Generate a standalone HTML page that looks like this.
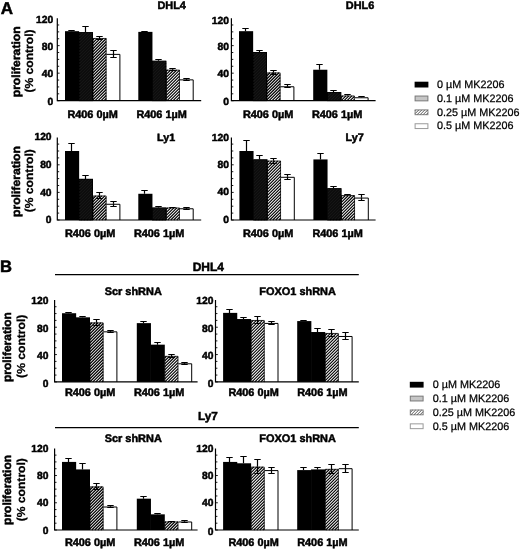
<!DOCTYPE html>
<html><head><meta charset="utf-8"><title>Figure</title>
<style>
html,body{margin:0;padding:0;background:#fff;}
body{width:520px;height:549px;overflow:hidden;font-family:"Liberation Sans",sans-serif;}
svg{display:block;}
text{font-family:"Liberation Sans",sans-serif;fill:#000;text-rendering:geometricPrecision;}
.b{font-weight:bold;stroke:#000;stroke-width:0.5px;}
.r{font-weight:normal;stroke:#000;stroke-width:0.25px;}
</style></head><body>
<svg width="520" height="549" viewBox="0 0 520 549">
<defs>
<filter id="bl" x="0" y="0" width="520" height="549" filterUnits="userSpaceOnUse"><feGaussianBlur stdDeviation="0.3"/></filter>
</defs>
<rect width="520" height="549" fill="#fff"/>
<g filter="url(#bl)">

<text x="0.8" y="13.6" class="b" font-size="17">A</text>
<text x="0.1" y="271.8" class="b" font-size="16.6">B</text>
<rect x="65.00" y="31.18" width="14.15" height="69.52" fill="#000"/>
<rect x="78.85" y="32.21" width="14.15" height="68.49" fill="#181818"/>
<path d="M79.65 35.10L81.74 33.01M79.65 38.10L84.74 33.01M79.65 41.10L87.74 33.01M79.65 44.10L90.74 33.01M79.65 47.10L92.70 34.05M79.65 50.10L92.70 37.05M79.65 53.10L92.70 40.05M79.65 56.10L92.70 43.05M79.65 59.10L92.70 46.05M79.65 62.10L92.70 49.05M79.65 65.10L92.70 52.05M79.65 68.10L92.70 55.05M79.65 71.10L92.70 58.05M79.65 74.10L92.70 61.05M79.65 77.10L92.70 64.05M79.65 80.10L92.70 67.05M79.65 83.10L92.70 70.05M79.65 86.10L92.70 73.05M79.65 89.10L92.70 76.05M79.65 92.10L92.70 79.05M79.65 95.10L92.70 82.05M79.65 98.10L92.70 85.05M80.05 100.70L92.70 88.05M83.05 100.70L92.70 91.05M86.05 100.70L92.70 94.05M89.05 100.70L92.70 97.05M92.05 100.70L92.70 100.05" stroke="#0a0a0a" stroke-width="1.1" fill="none"/>
<rect x="79.25" y="32.61" width="13.35" height="68.09" fill="none" stroke="#000" stroke-width="0.8"/>
<rect x="138.30" y="31.87" width="14.15" height="68.83" fill="#000"/>
<rect x="152.15" y="60.78" width="14.15" height="39.92" fill="#181818"/>
<path d="M152.95 63.80L155.17 61.58M152.95 66.80L158.17 61.58M152.95 69.80L161.17 61.58M152.95 72.80L164.17 61.58M152.95 75.80L166.00 62.75M152.95 78.80L166.00 65.75M152.95 81.80L166.00 68.75M152.95 84.80L166.00 71.75M152.95 87.80L166.00 74.75M152.95 90.80L166.00 77.75M152.95 93.80L166.00 80.75M152.95 96.80L166.00 83.75M152.95 99.80L166.00 86.75M155.05 100.70L166.00 89.75M158.05 100.70L166.00 92.75M161.05 100.70L166.00 95.75M164.05 100.70L166.00 98.75" stroke="#0a0a0a" stroke-width="1.1" fill="none"/>
<rect x="152.55" y="61.18" width="13.35" height="39.52" fill="none" stroke="#000" stroke-width="0.8"/>
<text x="53.20" y="104.70" text-anchor="end" class="b" font-size="10.3">0</text>
<text x="53.20" y="77.17" text-anchor="end" class="b" font-size="10.3">40</text>
<text x="53.20" y="49.63" text-anchor="end" class="b" font-size="10.3">80</text>
<text x="53.20" y="23.00" text-anchor="end" class="b" font-size="10.3">120</text>
<text x="67.40" y="118.30" class="b" font-size="10.9">R406 0µM</text>
<text x="136.40" y="118.30" class="b" font-size="10.9">R406 1µM</text>
<text x="171.7" y="9.4" text-anchor="middle" class="b" font-size="10.9">DHL4</text>
<rect x="239.00" y="31.18" width="14.15" height="69.52" fill="#000"/>
<rect x="252.85" y="52.03" width="14.15" height="48.67" fill="#181818"/>
<path d="M253.65 53.10L253.92 52.83M253.65 56.10L256.92 52.83M253.65 59.10L259.92 52.83M253.65 62.10L262.92 52.83M253.65 65.10L265.92 52.83M253.65 68.10L266.70 55.05M253.65 71.10L266.70 58.05M253.65 74.10L266.70 61.05M253.65 77.10L266.70 64.05M253.65 80.10L266.70 67.05M253.65 83.10L266.70 70.05M253.65 86.10L266.70 73.05M253.65 89.10L266.70 76.05M253.65 92.10L266.70 79.05M253.65 95.10L266.70 82.05M253.65 98.10L266.70 85.05M254.05 100.70L266.70 88.05M257.05 100.70L266.70 91.05M260.05 100.70L266.70 94.05M263.05 100.70L266.70 97.05M266.05 100.70L266.70 100.05" stroke="#0a0a0a" stroke-width="1.1" fill="none"/>
<rect x="253.25" y="52.43" width="13.35" height="48.27" fill="none" stroke="#000" stroke-width="0.8"/>
<rect x="313.20" y="69.73" width="14.15" height="30.97" fill="#000"/>
<rect x="327.05" y="92.10" width="14.15" height="8.60" fill="#181818"/>
<path d="M327.85 92.90L327.85 92.90M327.85 95.90L330.85 92.90M327.85 98.90L333.85 92.90M329.05 100.70L336.85 92.90M332.05 100.70L339.85 92.90M335.05 100.70L340.90 94.85M338.05 100.70L340.90 97.85" stroke="#0a0a0a" stroke-width="1.1" fill="none"/>
<rect x="327.45" y="92.50" width="13.35" height="8.20" fill="none" stroke="#000" stroke-width="0.8"/>
<text x="229.00" y="105.10" text-anchor="end" class="b" font-size="10.3">0</text>
<text x="229.00" y="77.17" text-anchor="end" class="b" font-size="10.3">40</text>
<text x="229.00" y="49.63" text-anchor="end" class="b" font-size="10.3">80</text>
<text x="229.00" y="23.60" text-anchor="end" class="b" font-size="10.3">120</text>
<text x="242.90" y="118.30" class="b" font-size="10.9">R406 0µM</text>
<text x="311.90" y="118.30" class="b" font-size="10.9">R406 1µM</text>
<text x="360.1" y="9.3" text-anchor="middle" class="b" font-size="10.9">DHL6</text>
<rect x="65.00" y="151.00" width="14.15" height="69.00" fill="#000"/>
<rect x="78.85" y="178.88" width="14.15" height="41.12" fill="#181818"/>
<path d="M79.65 182.10L82.07 179.68M79.65 185.10L85.07 179.68M79.65 188.10L88.07 179.68M79.65 191.10L91.07 179.68M79.65 194.10L92.70 181.05M79.65 197.10L92.70 184.05M79.65 200.10L92.70 187.05M79.65 203.10L92.70 190.05M79.65 206.10L92.70 193.05M79.65 209.10L92.70 196.05M79.65 212.10L92.70 199.05M79.65 215.10L92.70 202.05M79.65 218.10L92.70 205.05M80.75 220.00L92.70 208.05M83.75 220.00L92.70 211.05M86.75 220.00L92.70 214.05M89.75 220.00L92.70 217.05" stroke="#0a0a0a" stroke-width="1.1" fill="none"/>
<rect x="79.25" y="179.28" width="13.35" height="40.72" fill="none" stroke="#000" stroke-width="0.8"/>
<rect x="138.30" y="193.78" width="14.15" height="26.22" fill="#000"/>
<rect x="152.15" y="207.58" width="14.15" height="12.42" fill="#181818"/>
<path d="M152.95 210.80L155.37 208.38M152.95 213.80L158.37 208.38M152.95 216.80L161.37 208.38M152.95 219.80L164.37 208.38M155.75 220.00L166.00 209.75M158.75 220.00L166.00 212.75M161.75 220.00L166.00 215.75M164.75 220.00L166.00 218.75" stroke="#0a0a0a" stroke-width="1.1" fill="none"/>
<rect x="152.55" y="207.98" width="13.35" height="12.02" fill="none" stroke="#000" stroke-width="0.8"/>
<text x="51.60" y="223.20" text-anchor="end" class="b" font-size="10.3">0</text>
<text x="51.60" y="195.60" text-anchor="end" class="b" font-size="10.3">40</text>
<text x="51.60" y="168.00" text-anchor="end" class="b" font-size="10.3">80</text>
<text x="51.60" y="140.30" text-anchor="end" class="b" font-size="10.3">120</text>
<text x="64.90" y="237.10" class="b" font-size="10.9">R406 0µM</text>
<text x="133.90" y="237.10" class="b" font-size="10.9">R406 1µM</text>
<text x="166.1" y="141.1" text-anchor="middle" class="b" font-size="10.7">Ly1</text>
<rect x="239.40" y="151.00" width="14.15" height="69.00" fill="#000"/>
<rect x="253.25" y="159.42" width="14.15" height="60.58" fill="#181818"/>
<path d="M254.05 160.70L254.53 160.22M254.05 163.70L257.53 160.22M254.05 166.70L260.53 160.22M254.05 169.70L263.53 160.22M254.05 172.70L266.53 160.22M254.05 175.70L267.10 162.65M254.05 178.70L267.10 165.65M254.05 181.70L267.10 168.65M254.05 184.70L267.10 171.65M254.05 187.70L267.10 174.65M254.05 190.70L267.10 177.65M254.05 193.70L267.10 180.65M254.05 196.70L267.10 183.65M254.05 199.70L267.10 186.65M254.05 202.70L267.10 189.65M254.05 205.70L267.10 192.65M254.05 208.70L267.10 195.65M254.05 211.70L267.10 198.65M254.05 214.70L267.10 201.65M254.05 217.70L267.10 204.65M254.75 220.00L267.10 207.65M257.75 220.00L267.10 210.65M260.75 220.00L267.10 213.65M263.75 220.00L267.10 216.65M266.75 220.00L267.10 219.65" stroke="#0a0a0a" stroke-width="1.1" fill="none"/>
<rect x="253.65" y="159.82" width="13.35" height="60.18" fill="none" stroke="#000" stroke-width="0.8"/>
<rect x="313.40" y="159.42" width="14.15" height="60.58" fill="#000"/>
<rect x="327.25" y="188.26" width="14.15" height="31.74" fill="#181818"/>
<path d="M328.05 191.70L330.69 189.06M328.05 194.70L333.69 189.06M328.05 197.70L336.69 189.06M328.05 200.70L339.69 189.06M328.05 203.70L341.10 190.65M328.05 206.70L341.10 193.65M328.05 209.70L341.10 196.65M328.05 212.70L341.10 199.65M328.05 215.70L341.10 202.65M328.05 218.70L341.10 205.65M329.75 220.00L341.10 208.65M332.75 220.00L341.10 211.65M335.75 220.00L341.10 214.65M338.75 220.00L341.10 217.65" stroke="#0a0a0a" stroke-width="1.1" fill="none"/>
<rect x="327.65" y="188.66" width="13.35" height="31.34" fill="none" stroke="#000" stroke-width="0.8"/>
<text x="229.00" y="222.80" text-anchor="end" class="b" font-size="10.3">0</text>
<text x="229.00" y="195.00" text-anchor="end" class="b" font-size="10.3">40</text>
<text x="229.00" y="167.80" text-anchor="end" class="b" font-size="10.3">80</text>
<text x="229.00" y="140.50" text-anchor="end" class="b" font-size="10.3">120</text>
<text x="242.90" y="237.10" class="b" font-size="10.9">R406 0µM</text>
<text x="312.40" y="237.10" class="b" font-size="10.9">R406 1µM</text>
<text x="354.6" y="141.2" text-anchor="middle" class="b" font-size="10.8">Ly7</text>
<text transform="translate(19.80,61.80) rotate(-90)" text-anchor="middle" class="b" style="stroke-width:0.5px" font-size="11.6" textLength="71.0" lengthAdjust="spacingAndGlyphs">proliferation</text>
<text transform="translate(32.70,61.00) rotate(-90)" text-anchor="middle" class="b" style="stroke-width:0.25px" font-size="11.6" textLength="63.2" lengthAdjust="spacingAndGlyphs">(% control)</text>
<text transform="translate(19.80,181.50) rotate(-90)" text-anchor="middle" class="b" style="stroke-width:0.5px" font-size="11.6" textLength="71.0" lengthAdjust="spacingAndGlyphs">proliferation</text>
<text transform="translate(32.70,180.70) rotate(-90)" text-anchor="middle" class="b" style="stroke-width:0.25px" font-size="11.6" textLength="63.2" lengthAdjust="spacingAndGlyphs">(% control)</text>
<rect x="414.60" y="81.70" width="13.8" height="5.8" fill="#000"/>
<text x="437.00" y="87.90" class="r" font-size="10.8">0 µM MK2206</text>
<rect x="415.10" y="96.05" width="12.8" height="4.8" fill="#c6c6c6" stroke="#787878" stroke-width="1"/>
<text x="437.00" y="101.75" class="r" font-size="10.8">0.1 µM MK2206</text>
<rect x="415.10" y="109.90" width="12.8" height="4.8" fill="#fff" stroke="none"/>
<rect x="415.10" y="109.90" width="12.8" height="4.8" fill="none" stroke="#808080" stroke-width="1"/>
<text x="437.00" y="115.60" class="r" font-size="10.8">0.25 µM MK2206</text>
<rect x="415.10" y="123.75" width="12.8" height="4.8" fill="#fff" stroke="#9a9a9a" stroke-width="1"/>
<text x="437.00" y="129.45" class="r" font-size="10.8">0.5 µM MK2206</text>
<path d="M55 274.7H358.8M55 427.6H358.8" stroke="#000" stroke-width="1.2"/>
<text x="208.3" y="271.0" text-anchor="middle" class="b" font-size="12">DHL4</text>
<text x="207.9" y="419.9" text-anchor="middle" class="b" font-size="11.8">Ly7</text>
<text x="104.7" y="295.05" class="b" font-size="10.95">Scr shRNA</text>
<text x="259.3" y="295.05" class="b" font-size="10.95">FOXO1 shRNA</text>
<text x="104.7" y="441.6" class="b" font-size="10.95">Scr shRNA</text>
<text x="259.3" y="441.6" class="b" font-size="10.95">FOXO1 shRNA</text>
<rect x="62.00" y="313.22" width="14.15" height="68.68" fill="#000"/>
<rect x="75.85" y="317.32" width="14.15" height="64.57" fill="#030303"/>
<rect x="136.80" y="323.13" width="14.15" height="58.77" fill="#000"/>
<rect x="150.65" y="344.66" width="14.15" height="37.24" fill="#030303"/>
<text x="48.50" y="387.10" text-anchor="end" class="b" font-size="10.3">0</text>
<text x="48.50" y="359.17" text-anchor="end" class="b" font-size="10.3">40</text>
<text x="48.50" y="331.63" text-anchor="end" class="b" font-size="10.3">80</text>
<text x="48.50" y="304.20" text-anchor="end" class="b" font-size="10.3">120</text>
<text x="64.90" y="396.30" class="b" font-size="10.9">R406 0µM</text>
<text x="133.90" y="396.30" class="b" font-size="10.9">R406 1µM</text>
<rect x="223.10" y="312.88" width="14.15" height="69.02" fill="#000"/>
<rect x="236.95" y="319.03" width="14.15" height="62.87" fill="#030303"/>
<rect x="297.20" y="321.08" width="14.15" height="60.82" fill="#000"/>
<rect x="311.05" y="332.02" width="14.15" height="49.88" fill="#030303"/>
<text x="213.40" y="387.10" text-anchor="end" class="b" font-size="10.3">0</text>
<text x="213.40" y="359.17" text-anchor="end" class="b" font-size="10.3">40</text>
<text x="213.40" y="331.63" text-anchor="end" class="b" font-size="10.3">80</text>
<text x="213.40" y="304.20" text-anchor="end" class="b" font-size="10.3">120</text>
<text x="228.40" y="396.30" class="b" font-size="10.9">R406 0µM</text>
<text x="297.20" y="396.30" class="b" font-size="10.9">R406 1µM</text>
<rect x="62.00" y="461.92" width="14.15" height="68.08" fill="#000"/>
<rect x="75.85" y="469.41" width="14.15" height="60.59" fill="#030303"/>
<rect x="136.80" y="498.68" width="14.15" height="31.32" fill="#000"/>
<rect x="150.65" y="514.34" width="14.15" height="15.66" fill="#030303"/>
<text x="48.50" y="534.00" text-anchor="end" class="b" font-size="10.3">0</text>
<text x="48.50" y="506.17" text-anchor="end" class="b" font-size="10.3">40</text>
<text x="48.50" y="479.13" text-anchor="end" class="b" font-size="10.3">80</text>
<text x="48.50" y="451.60" text-anchor="end" class="b" font-size="10.3">120</text>
<text x="64.90" y="545.80" class="b" font-size="10.9">R406 0µM</text>
<text x="133.90" y="545.80" class="b" font-size="10.9">R406 1µM</text>
<rect x="223.10" y="461.92" width="14.15" height="68.08" fill="#000"/>
<rect x="236.95" y="463.28" width="14.15" height="66.72" fill="#030303"/>
<rect x="297.20" y="470.09" width="14.15" height="59.91" fill="#000"/>
<rect x="311.05" y="469.41" width="14.15" height="60.59" fill="#030303"/>
<text x="213.40" y="534.60" text-anchor="end" class="b" font-size="10.3">0</text>
<text x="213.40" y="506.17" text-anchor="end" class="b" font-size="10.3">40</text>
<text x="213.40" y="479.13" text-anchor="end" class="b" font-size="10.3">80</text>
<text x="213.40" y="451.60" text-anchor="end" class="b" font-size="10.3">120</text>
<text x="228.40" y="545.80" class="b" font-size="10.9">R406 0µM</text>
<text x="297.20" y="545.80" class="b" font-size="10.9">R406 1µM</text>
<text transform="translate(11.20,347.10) rotate(-90)" text-anchor="middle" class="b" style="stroke-width:0.5px" font-size="11.6" textLength="70.0" lengthAdjust="spacingAndGlyphs">proliferation</text>
<text transform="translate(25.00,346.30) rotate(-90)" text-anchor="middle" class="b" style="stroke-width:0.25px" font-size="11.6" textLength="63.2" lengthAdjust="spacingAndGlyphs">(% control)</text>
<text transform="translate(11.40,489.90) rotate(-90)" text-anchor="middle" class="b" style="stroke-width:0.5px" font-size="11.6" textLength="70.0" lengthAdjust="spacingAndGlyphs">proliferation</text>
<text transform="translate(25.00,489.70) rotate(-90)" text-anchor="middle" class="b" style="stroke-width:0.25px" font-size="11.6" textLength="63.2" lengthAdjust="spacingAndGlyphs">(% control)</text>
<rect x="409.80" y="381.80" width="13.8" height="5.8" fill="#000"/>
<text x="432.80" y="388.00" class="r" font-size="10.8">0 µM MK2206</text>
<rect x="410.30" y="396.15" width="12.8" height="4.8" fill="#c6c6c6" stroke="#787878" stroke-width="1"/>
<text x="432.80" y="401.85" class="r" font-size="10.8">0.1 µM MK2206</text>
<rect x="410.30" y="410.00" width="12.8" height="4.8" fill="#fff" stroke="none"/>
<rect x="410.30" y="410.00" width="12.8" height="4.8" fill="none" stroke="#808080" stroke-width="1"/>
<text x="432.80" y="415.70" class="r" font-size="10.8">0.25 µM MK2206</text>
<rect x="410.30" y="423.85" width="12.8" height="4.8" fill="#fff" stroke="#9a9a9a" stroke-width="1"/>
<text x="432.80" y="429.55" class="r" font-size="10.8">0.5 µM MK2206</text>
</g>
<g><path d="M93.00 39.75L94.39 38.36M93.00 42.75L97.39 38.36M93.00 45.75L100.39 38.36M93.00 48.75L103.39 38.36M93.00 51.75L106.25 38.50M93.00 54.75L106.25 41.50M93.00 57.75L106.25 44.50M93.00 60.75L106.25 47.50M93.00 63.75L106.25 50.50M93.00 66.75L106.25 53.50M93.00 69.75L106.25 56.50M93.00 72.75L106.25 59.50M93.00 75.75L106.25 62.50M93.00 78.75L106.25 65.50M93.00 81.75L106.25 68.50M93.00 84.75L106.25 71.50M93.00 87.75L106.25 74.50M93.00 90.75L106.25 77.50M93.00 93.75L106.25 80.50M93.00 96.75L106.25 83.50M93.00 99.75L106.25 86.50M95.05 100.70L106.25 89.50M98.05 100.70L106.25 92.50M101.05 100.70L106.25 95.50M104.05 100.70L106.25 98.50" stroke="#000" stroke-width="1.2" fill="none"/><path d="M166.30 71.45L167.72 70.03M166.30 74.45L170.72 70.03M166.30 77.45L173.72 70.03M166.30 80.45L176.72 70.03M166.30 83.45L179.55 70.20M166.30 86.45L179.55 73.20M166.30 89.45L179.55 76.20M166.30 92.45L179.55 79.20M166.30 95.45L179.55 82.20M166.30 98.45L179.55 85.20M167.05 100.70L179.55 88.20M170.05 100.70L179.55 91.20M173.05 100.70L179.55 94.20M176.05 100.70L179.55 97.20M179.05 100.70L179.55 100.20" stroke="#000" stroke-width="1.2" fill="none"/><path d="M267.00 75.75L269.97 72.78M267.00 78.75L272.97 72.78M267.00 81.75L275.97 72.78M267.00 84.75L278.97 72.78M267.00 87.75L280.25 74.50M267.00 90.75L280.25 77.50M267.00 93.75L280.25 80.50M267.00 96.75L280.25 83.50M267.00 99.75L280.25 86.50M269.05 100.70L280.25 89.50M272.05 100.70L280.25 92.50M275.05 100.70L280.25 95.50M278.05 100.70L280.25 98.50" stroke="#000" stroke-width="1.2" fill="none"/><path d="M341.20 97.55L342.91 95.84M341.20 100.55L345.91 95.84M344.05 100.70L348.91 95.84M347.05 100.70L351.91 95.84M350.05 100.70L354.45 96.30M353.05 100.70L354.45 99.30" stroke="#000" stroke-width="1.2" fill="none"/><path d="M93.00 198.75L95.88 195.87M93.00 201.75L98.88 195.87M93.00 204.75L101.88 195.87M93.00 207.75L104.88 195.87M93.00 210.75L106.25 197.50M93.00 213.75L106.25 200.50M93.00 216.75L106.25 203.50M93.00 219.75L106.25 206.50M95.75 220.00L106.25 209.50M98.75 220.00L106.25 212.50M101.75 220.00L106.25 215.50M104.75 220.00L106.25 218.50" stroke="#000" stroke-width="1.2" fill="none"/><path d="M166.30 209.45L167.87 207.88M166.30 212.45L170.87 207.88M166.30 215.45L173.87 207.88M166.30 218.45L176.87 207.88M167.75 220.00L179.55 208.20M170.75 220.00L179.55 211.20M173.75 220.00L179.55 214.20M176.75 220.00L179.55 217.20" stroke="#000" stroke-width="1.2" fill="none"/><path d="M267.40 162.35L268.79 160.96M267.40 165.35L271.79 160.96M267.40 168.35L274.79 160.96M267.40 171.35L277.79 160.96M267.40 174.35L280.65 161.10M267.40 177.35L280.65 164.10M267.40 180.35L280.65 167.10M267.40 183.35L280.65 170.10M267.40 186.35L280.65 173.10M267.40 189.35L280.65 176.10M267.40 192.35L280.65 179.10M267.40 195.35L280.65 182.10M267.40 198.35L280.65 185.10M267.40 201.35L280.65 188.10M267.40 204.35L280.65 191.10M267.40 207.35L280.65 194.10M267.40 210.35L280.65 197.10M267.40 213.35L280.65 200.10M267.40 216.35L280.65 203.10M267.40 219.35L280.65 206.10M269.75 220.00L280.65 209.10M272.75 220.00L280.65 212.10M275.75 220.00L280.65 215.10M278.75 220.00L280.65 218.10" stroke="#000" stroke-width="1.2" fill="none"/><path d="M341.40 196.35L342.29 195.46M341.40 199.35L345.29 195.46M341.40 202.35L348.29 195.46M341.40 205.35L351.29 195.46M341.40 208.35L354.29 195.46M341.40 211.35L354.65 198.10M341.40 214.35L354.65 201.10M341.40 217.35L354.65 204.10M341.75 220.00L354.65 207.10M344.75 220.00L354.65 210.10M347.75 220.00L354.65 213.10M350.75 220.00L354.65 216.10M353.75 220.00L354.65 219.10" stroke="#000" stroke-width="1.2" fill="none"/><path d="M415.10 110.65L415.85 109.90M415.10 113.65L418.85 109.90M417.05 114.70L421.85 109.90M420.05 114.70L424.85 109.90M423.05 114.70L427.85 109.90M426.05 114.70L427.90 112.85" stroke="#5a5a5a" stroke-width="1.0" fill="none"/><path d="M90.00 324.75L92.00 322.75M90.00 327.75L95.00 322.75M90.00 330.75L98.00 322.75M90.00 333.75L101.00 322.75M90.00 336.75L103.25 323.50M90.00 339.75L103.25 326.50M90.00 342.75L103.25 329.50M90.00 345.75L103.25 332.50M90.00 348.75L103.25 335.50M90.00 351.75L103.25 338.50M90.00 354.75L103.25 341.50M90.00 357.75L103.25 344.50M90.00 360.75L103.25 347.50M90.00 363.75L103.25 350.50M90.00 366.75L103.25 353.50M90.00 369.75L103.25 356.50M90.00 372.75L103.25 359.50M90.00 375.75L103.25 362.50M90.00 378.75L103.25 365.50M90.00 381.75L103.25 368.50M92.85 381.90L103.25 371.50M95.85 381.90L103.25 374.50M98.85 381.90L103.25 377.50M101.85 381.90L103.25 380.50" stroke="#000" stroke-width="1.2" fill="none"/><path d="M164.80 357.95L166.52 356.23M164.80 360.95L169.52 356.23M164.80 363.95L172.52 356.23M164.80 366.95L175.52 356.23M164.80 369.95L178.05 356.70M164.80 372.95L178.05 359.70M164.80 375.95L178.05 362.70M164.80 378.95L178.05 365.70M164.85 381.90L178.05 368.70M167.85 381.90L178.05 371.70M170.85 381.90L178.05 374.70M173.85 381.90L178.05 377.70M176.85 381.90L178.05 380.70" stroke="#000" stroke-width="1.2" fill="none"/><path d="M251.10 322.65L253.39 320.36M251.10 325.65L256.39 320.36M251.10 328.65L259.39 320.36M251.10 331.65L262.39 320.36M251.10 334.65L264.35 321.40M251.10 337.65L264.35 324.40M251.10 340.65L264.35 327.40M251.10 343.65L264.35 330.40M251.10 346.65L264.35 333.40M251.10 349.65L264.35 336.40M251.10 352.65L264.35 339.40M251.10 355.65L264.35 342.40M251.10 358.65L264.35 345.40M251.10 361.65L264.35 348.40M251.10 364.65L264.35 351.40M251.10 367.65L264.35 354.40M251.10 370.65L264.35 357.40M251.10 373.65L264.35 360.40M251.10 376.65L264.35 363.40M251.10 379.65L264.35 366.40M251.85 381.90L264.35 369.40M254.85 381.90L264.35 372.40M257.85 381.90L264.35 375.40M260.85 381.90L264.35 378.40M263.85 381.90L264.35 381.40" stroke="#000" stroke-width="1.2" fill="none"/><path d="M325.20 335.55L327.41 333.34M325.20 338.55L330.41 333.34M325.20 341.55L333.41 333.34M325.20 344.55L336.41 333.34M325.20 347.55L338.45 334.30M325.20 350.55L338.45 337.30M325.20 353.55L338.45 340.30M325.20 356.55L338.45 343.30M325.20 359.55L338.45 346.30M325.20 362.55L338.45 349.30M325.20 365.55L338.45 352.30M325.20 368.55L338.45 355.30M325.20 371.55L338.45 358.30M325.20 374.55L338.45 361.30M325.20 377.55L338.45 364.30M325.20 380.55L338.45 367.30M326.85 381.90L338.45 370.30M329.85 381.90L338.45 373.30M332.85 381.90L338.45 376.30M335.85 381.90L338.45 379.30" stroke="#000" stroke-width="1.2" fill="none"/><path d="M90.00 486.75L90.02 486.73M90.00 489.75L93.02 486.73M90.00 492.75L96.02 486.73M90.00 495.75L99.02 486.73M90.00 498.75L102.02 486.73M90.00 501.75L103.25 488.50M90.00 504.75L103.25 491.50M90.00 507.75L103.25 494.50M90.00 510.75L103.25 497.50M90.00 513.75L103.25 500.50M90.00 516.75L103.25 503.50M90.00 519.75L103.25 506.50M90.00 522.75L103.25 509.50M90.00 525.75L103.25 512.50M90.00 528.75L103.25 515.50M91.75 530.00L103.25 518.50M94.75 530.00L103.25 521.50M97.75 530.00L103.25 524.50M100.75 530.00L103.25 527.50" stroke="#000" stroke-width="1.2" fill="none"/><path d="M164.80 522.95L165.96 521.79M164.80 525.95L168.96 521.79M164.80 528.95L171.96 521.79M166.75 530.00L174.96 521.79M169.75 530.00L177.96 521.79M172.75 530.00L178.05 524.70M175.75 530.00L178.05 527.70" stroke="#000" stroke-width="1.2" fill="none"/><path d="M251.10 469.65L253.77 466.98M251.10 472.65L256.77 466.98M251.10 475.65L259.77 466.98M251.10 478.65L262.77 466.98M251.10 481.65L264.35 468.40M251.10 484.65L264.35 471.40M251.10 487.65L264.35 474.40M251.10 490.65L264.35 477.40M251.10 493.65L264.35 480.40M251.10 496.65L264.35 483.40M251.10 499.65L264.35 486.40M251.10 502.65L264.35 489.40M251.10 505.65L264.35 492.40M251.10 508.65L264.35 495.40M251.10 511.65L264.35 498.40M251.10 514.65L264.35 501.40M251.10 517.65L264.35 504.40M251.10 520.65L264.35 507.40M251.10 523.65L264.35 510.40M251.10 526.65L264.35 513.40M251.10 529.65L264.35 516.40M253.75 530.00L264.35 519.40M256.75 530.00L264.35 522.40M259.75 530.00L264.35 525.40M262.75 530.00L264.35 528.40" stroke="#000" stroke-width="1.2" fill="none"/><path d="M325.20 470.55L326.52 469.23M325.20 473.55L329.52 469.23M325.20 476.55L332.52 469.23M325.20 479.55L335.52 469.23M325.20 482.55L338.45 469.30M325.20 485.55L338.45 472.30M325.20 488.55L338.45 475.30M325.20 491.55L338.45 478.30M325.20 494.55L338.45 481.30M325.20 497.55L338.45 484.30M325.20 500.55L338.45 487.30M325.20 503.55L338.45 490.30M325.20 506.55L338.45 493.30M325.20 509.55L338.45 496.30M325.20 512.55L338.45 499.30M325.20 515.55L338.45 502.30M325.20 518.55L338.45 505.30M325.20 521.55L338.45 508.30M325.20 524.55L338.45 511.30M325.20 527.55L338.45 514.30M325.75 530.00L338.45 517.30M328.75 530.00L338.45 520.30M331.75 530.00L338.45 523.30M334.75 530.00L338.45 526.30M337.75 530.00L338.45 529.30" stroke="#000" stroke-width="1.2" fill="none"/><path d="M410.30 412.45L412.75 410.00M410.95 414.80L415.75 410.00M413.95 414.80L418.75 410.00M416.95 414.80L421.75 410.00M419.95 414.80L423.10 411.65M422.95 414.80L423.10 414.65" stroke="#5a5a5a" stroke-width="1.0" fill="none"/><path d="M71.50 31.18V30.50M68.30 30.50H74.70" stroke="#000" stroke-width="1.2" fill="none"/><path d="M85.50 32.21V26.50M82.30 26.50H88.70" stroke="#000" stroke-width="1.2" fill="none"/><path d="M93.10 100.70V38.46H106.15V100.70" fill="none" stroke="#000" stroke-width="0.8"/><path d="M99.50 38.06V36.50M96.30 36.50H102.70" stroke="#000" stroke-width="1.2" fill="none"/><path d="M99.50 38.06V39.50M96.30 39.50H102.70" stroke="#000" stroke-width="1.2" fill="none"/><path d="M106.55 54.39H119.90V100.70" fill="none" stroke="#000" stroke-width="1"/><path d="M113.50 53.89V50.50M110.30 50.50H116.70" stroke="#000" stroke-width="1.2" fill="none"/><path d="M113.50 53.89V57.50M110.30 57.50H116.70" stroke="#000" stroke-width="1.2" fill="none"/><path d="M144.50 31.87V31.50M141.30 31.50H147.70" stroke="#000" stroke-width="1.2" fill="none"/><path d="M158.50 60.78V59.50M155.30 59.50H161.70" stroke="#000" stroke-width="1.2" fill="none"/><path d="M166.40 100.70V70.13H179.45V100.70" fill="none" stroke="#000" stroke-width="0.8"/><path d="M172.50 69.73V68.50M169.30 68.50H175.70" stroke="#000" stroke-width="1.2" fill="none"/><path d="M172.50 69.73V70.50M169.30 70.50H175.70" stroke="#000" stroke-width="1.2" fill="none"/><path d="M179.85 79.86H193.20V100.70" fill="none" stroke="#000" stroke-width="1"/><path d="M186.50 79.36V78.50M183.30 78.50H189.70" stroke="#000" stroke-width="1.2" fill="none"/><path d="M186.50 79.36V80.50M183.30 80.50H189.70" stroke="#000" stroke-width="1.2" fill="none"/><path d="M57.30 18.30V100.70H201.20" stroke="#000" stroke-width="1.2" fill="none" stroke-linejoin="miter"/><path d="M57.30 100.70h2.3M57.30 93.82h1.9M57.30 86.93h1.9M57.30 80.05h1.9M57.30 73.17h2.3M57.30 66.28h1.9M57.30 59.40h1.9M57.30 52.52h1.9M57.30 45.63h2.3M57.30 38.75h1.9M57.30 31.87h1.9M57.30 24.98h1.9" stroke="#000" stroke-width="0.9" fill="none"/><path d="M245.50 31.18V28.50M242.30 28.50H248.70" stroke="#000" stroke-width="1.2" fill="none"/><path d="M259.50 52.03V50.50M256.30 50.50H262.70" stroke="#000" stroke-width="1.2" fill="none"/><path d="M267.10 100.70V72.88H280.15V100.70" fill="none" stroke="#000" stroke-width="0.8"/><path d="M273.50 72.48V70.50M270.30 70.50H276.70" stroke="#000" stroke-width="1.2" fill="none"/><path d="M273.50 72.48V74.50M270.30 74.50H276.70" stroke="#000" stroke-width="1.2" fill="none"/><path d="M280.55 86.75H293.90V100.70" fill="none" stroke="#000" stroke-width="1"/><path d="M287.50 86.25V84.50M284.30 84.50H290.70" stroke="#000" stroke-width="1.2" fill="none"/><path d="M287.50 86.25V87.50M284.30 87.50H290.70" stroke="#000" stroke-width="1.2" fill="none"/><path d="M319.50 69.73V64.50M316.30 64.50H322.70" stroke="#000" stroke-width="1.2" fill="none"/><path d="M333.50 92.10V90.50M330.30 90.50H336.70" stroke="#000" stroke-width="1.2" fill="none"/><path d="M341.30 100.70V95.94H354.35V100.70" fill="none" stroke="#000" stroke-width="0.8"/><path d="M347.50 95.54V94.50M344.30 94.50H350.70" stroke="#000" stroke-width="1.2" fill="none"/><path d="M354.75 97.76H368.10V100.70" fill="none" stroke="#000" stroke-width="1"/><path d="M361.50 97.26V96.50M358.30 96.50H364.70" stroke="#000" stroke-width="1.2" fill="none"/><path d="M231.40 18.30V100.70H375.60" stroke="#000" stroke-width="1.2" fill="none" stroke-linejoin="miter"/><path d="M231.40 100.70h2.3M231.40 93.82h1.9M231.40 86.93h1.9M231.40 80.05h1.9M231.40 73.17h2.3M231.40 66.28h1.9M231.40 59.40h1.9M231.40 52.52h1.9M231.40 45.63h2.3M231.40 38.75h1.9M231.40 31.87h1.9M231.40 24.98h1.9" stroke="#000" stroke-width="0.9" fill="none"/><path d="M71.50 151.00V143.50M68.30 143.50H74.70" stroke="#000" stroke-width="1.2" fill="none"/><path d="M85.50 178.88V175.50M82.30 175.50H88.70" stroke="#000" stroke-width="1.2" fill="none"/><path d="M93.10 220.00V195.97H106.15V220.00" fill="none" stroke="#000" stroke-width="0.8"/><path d="M99.50 195.57V192.50M96.30 192.50H102.70" stroke="#000" stroke-width="1.2" fill="none"/><path d="M99.50 195.57V198.50M96.30 198.50H102.70" stroke="#000" stroke-width="1.2" fill="none"/><path d="M106.55 204.28H119.90V220.00" fill="none" stroke="#000" stroke-width="1"/><path d="M113.50 203.78V201.50M110.30 201.50H116.70" stroke="#000" stroke-width="1.2" fill="none"/><path d="M113.50 203.78V206.50M110.30 206.50H116.70" stroke="#000" stroke-width="1.2" fill="none"/><path d="M144.50 193.78V190.50M141.30 190.50H147.70" stroke="#000" stroke-width="1.2" fill="none"/><path d="M158.50 207.58V206.50M155.30 206.50H161.70" stroke="#000" stroke-width="1.2" fill="none"/><path d="M166.40 220.00V207.98H179.45V220.00" fill="none" stroke="#000" stroke-width="0.8"/><path d="M172.50 207.58V207.50M169.30 207.50H175.70" stroke="#000" stroke-width="1.2" fill="none"/><path d="M179.85 208.77H193.20V220.00" fill="none" stroke="#000" stroke-width="1"/><path d="M186.50 208.27V207.50M183.30 207.50H189.70" stroke="#000" stroke-width="1.2" fill="none"/><path d="M186.50 208.27V209.50M183.30 209.50H189.70" stroke="#000" stroke-width="1.2" fill="none"/><path d="M57.30 137.40V220.00H201.20" stroke="#000" stroke-width="1.2" fill="none" stroke-linejoin="miter"/><path d="M57.30 220.00h2.3M57.30 213.10h1.9M57.30 206.20h1.9M57.30 199.30h1.9M57.30 192.40h2.3M57.30 185.50h1.9M57.30 178.60h1.9M57.30 171.70h1.9M57.30 164.80h2.3M57.30 157.90h1.9M57.30 151.00h1.9M57.30 144.10h1.9" stroke="#000" stroke-width="0.9" fill="none"/><path d="M246.50 151.00V140.50M243.30 140.50H249.70" stroke="#000" stroke-width="1.2" fill="none"/><path d="M259.50 159.42V155.50M256.30 155.50H262.70" stroke="#000" stroke-width="1.2" fill="none"/><path d="M267.50 220.00V161.06H280.55V220.00" fill="none" stroke="#000" stroke-width="0.8"/><path d="M273.50 160.66V158.50M270.30 158.50H276.70" stroke="#000" stroke-width="1.2" fill="none"/><path d="M273.50 160.66V163.50M270.30 163.50H276.70" stroke="#000" stroke-width="1.2" fill="none"/><path d="M280.95 177.31H294.30V220.00" fill="none" stroke="#000" stroke-width="1"/><path d="M287.50 176.81V174.50M284.30 174.50H290.70" stroke="#000" stroke-width="1.2" fill="none"/><path d="M287.50 176.81V179.50M284.30 179.50H290.70" stroke="#000" stroke-width="1.2" fill="none"/><path d="M320.50 159.42V153.50M317.30 153.50H323.70" stroke="#000" stroke-width="1.2" fill="none"/><path d="M333.50 188.26V186.50M330.30 186.50H336.70" stroke="#000" stroke-width="1.2" fill="none"/><path d="M341.50 220.00V195.56H354.55V220.00" fill="none" stroke="#000" stroke-width="0.8"/><path d="M347.50 195.16V194.50M344.30 194.50H350.70" stroke="#000" stroke-width="1.2" fill="none"/><path d="M354.95 198.07H368.30V220.00" fill="none" stroke="#000" stroke-width="1"/><path d="M361.50 197.57V194.50M358.30 194.50H364.70" stroke="#000" stroke-width="1.2" fill="none"/><path d="M361.50 197.57V200.50M358.30 200.50H364.70" stroke="#000" stroke-width="1.2" fill="none"/><path d="M231.40 137.40V220.00H375.60" stroke="#000" stroke-width="1.2" fill="none" stroke-linejoin="miter"/><path d="M231.40 220.00h2.3M231.40 213.10h1.9M231.40 206.20h1.9M231.40 199.30h1.9M231.40 192.40h2.3M231.40 185.50h1.9M231.40 178.60h1.9M231.40 171.70h1.9M231.40 164.80h2.3M231.40 157.90h1.9M231.40 151.00h1.9M231.40 144.10h1.9" stroke="#000" stroke-width="0.9" fill="none"/><path d="M68.50 313.22V312.50M65.30 312.50H71.70" stroke="#000" stroke-width="1.2" fill="none"/><path d="M82.50 317.32V316.50M79.30 316.50H85.70" stroke="#000" stroke-width="1.2" fill="none"/><path d="M90.10 381.90V322.85H103.15V381.90" fill="none" stroke="#000" stroke-width="0.8"/><path d="M96.50 322.45V319.50M93.30 319.50H99.70" stroke="#000" stroke-width="1.2" fill="none"/><path d="M96.50 322.45V325.50M93.30 325.50H99.70" stroke="#000" stroke-width="1.2" fill="none"/><path d="M103.55 331.83H116.90V381.90" fill="none" stroke="#000" stroke-width="1"/><path d="M110.50 331.33V330.50M107.30 330.50H113.70" stroke="#000" stroke-width="1.2" fill="none"/><path d="M110.50 331.33V332.50M107.30 332.50H113.70" stroke="#000" stroke-width="1.2" fill="none"/><path d="M143.50 323.13V321.50M140.30 321.50H146.70" stroke="#000" stroke-width="1.2" fill="none"/><path d="M157.50 344.66V342.50M154.30 342.50H160.70" stroke="#000" stroke-width="1.2" fill="none"/><path d="M164.90 381.90V356.33H177.95V381.90" fill="none" stroke="#000" stroke-width="0.8"/><path d="M171.50 355.93V354.50M168.30 354.50H174.70" stroke="#000" stroke-width="1.2" fill="none"/><path d="M171.50 355.93V357.50M168.30 357.50H174.70" stroke="#000" stroke-width="1.2" fill="none"/><path d="M178.35 363.81H191.70V381.90" fill="none" stroke="#000" stroke-width="1"/><path d="M184.50 363.31V362.50M181.30 362.50H187.70" stroke="#000" stroke-width="1.2" fill="none"/><path d="M184.50 363.31V364.50M181.30 364.50H187.70" stroke="#000" stroke-width="1.2" fill="none"/><path d="M54.60 300.10V381.90H197.60" stroke="#000" stroke-width="1.2" fill="none" stroke-linejoin="miter"/><path d="M54.60 381.90h2.3M54.60 375.07h1.9M54.60 368.23h1.9M54.60 361.40h1.9M54.60 354.57h2.3M54.60 347.73h1.9M54.60 340.90h1.9M54.60 334.07h1.9M54.60 327.23h2.3M54.60 320.40h1.9M54.60 313.57h1.9M54.60 306.73h1.9" stroke="#000" stroke-width="0.9" fill="none"/><path d="M229.50 312.88V309.50M226.30 309.50H232.70" stroke="#000" stroke-width="1.2" fill="none"/><path d="M243.50 319.03V317.50M240.30 317.50H246.70" stroke="#000" stroke-width="1.2" fill="none"/><path d="M251.20 381.90V320.46H264.25V381.90" fill="none" stroke="#000" stroke-width="0.8"/><path d="M257.50 320.06V316.50M254.30 316.50H260.70" stroke="#000" stroke-width="1.2" fill="none"/><path d="M257.50 320.06V323.50M254.30 323.50H260.70" stroke="#000" stroke-width="1.2" fill="none"/><path d="M264.65 323.43H278.00V381.90" fill="none" stroke="#000" stroke-width="1"/><path d="M271.50 322.93V321.50M268.30 321.50H274.70" stroke="#000" stroke-width="1.2" fill="none"/><path d="M271.50 322.93V324.50M268.30 324.50H274.70" stroke="#000" stroke-width="1.2" fill="none"/><path d="M303.50 321.08V320.50M300.30 320.50H306.70" stroke="#000" stroke-width="1.2" fill="none"/><path d="M317.50 332.02V328.50M314.30 328.50H320.70" stroke="#000" stroke-width="1.2" fill="none"/><path d="M325.30 381.90V333.44H338.35V381.90" fill="none" stroke="#000" stroke-width="0.8"/><path d="M331.50 333.04V329.50M328.30 329.50H334.70" stroke="#000" stroke-width="1.2" fill="none"/><path d="M331.50 333.04V336.50M328.30 336.50H334.70" stroke="#000" stroke-width="1.2" fill="none"/><path d="M338.75 336.48H352.10V381.90" fill="none" stroke="#000" stroke-width="1"/><path d="M345.50 335.98V332.50M342.30 332.50H348.70" stroke="#000" stroke-width="1.2" fill="none"/><path d="M345.50 335.98V339.50M342.30 339.50H348.70" stroke="#000" stroke-width="1.2" fill="none"/><path d="M215.50 300.10V381.90H358.80" stroke="#000" stroke-width="1.2" fill="none" stroke-linejoin="miter"/><path d="M215.50 381.90h2.3M215.50 375.07h1.9M215.50 368.23h1.9M215.50 361.40h1.9M215.50 354.57h2.3M215.50 347.73h1.9M215.50 340.90h1.9M215.50 334.07h1.9M215.50 327.23h2.3M215.50 320.40h1.9M215.50 313.57h1.9M215.50 306.73h1.9" stroke="#000" stroke-width="0.9" fill="none"/><path d="M68.50 461.92V458.50M65.30 458.50H71.70" stroke="#000" stroke-width="1.2" fill="none"/><path d="M82.50 469.41V463.50M79.30 463.50H85.70" stroke="#000" stroke-width="1.2" fill="none"/><path d="M90.10 530.00V486.83H103.15V530.00" fill="none" stroke="#000" stroke-width="0.8"/><path d="M96.50 486.43V483.50M93.30 483.50H99.70" stroke="#000" stroke-width="1.2" fill="none"/><path d="M96.50 486.43V489.50M93.30 489.50H99.70" stroke="#000" stroke-width="1.2" fill="none"/><path d="M103.55 507.01H116.90V530.00" fill="none" stroke="#000" stroke-width="1"/><path d="M110.50 506.51V505.50M107.30 505.50H113.70" stroke="#000" stroke-width="1.2" fill="none"/><path d="M110.50 506.51V507.50M107.30 507.50H113.70" stroke="#000" stroke-width="1.2" fill="none"/><path d="M143.50 498.68V496.50M140.30 496.50H146.70" stroke="#000" stroke-width="1.2" fill="none"/><path d="M157.50 514.34V513.50M154.30 513.50H160.70" stroke="#000" stroke-width="1.2" fill="none"/><path d="M164.90 530.00V521.89H177.95V530.00" fill="none" stroke="#000" stroke-width="0.8"/><path d="M171.50 521.49V521.50M168.30 521.50H174.70" stroke="#000" stroke-width="1.2" fill="none"/><path d="M178.35 521.99H191.70V530.00" fill="none" stroke="#000" stroke-width="1"/><path d="M184.50 521.49V520.50M181.30 520.50H187.70" stroke="#000" stroke-width="1.2" fill="none"/><path d="M184.50 521.49V522.50M181.30 522.50H187.70" stroke="#000" stroke-width="1.2" fill="none"/><path d="M54.60 448.50V530.00H197.60" stroke="#000" stroke-width="1.2" fill="none" stroke-linejoin="miter"/><path d="M54.60 530.00h2.3M54.60 523.19h1.9M54.60 516.38h1.9M54.60 509.57h1.9M54.60 502.77h2.3M54.60 495.96h1.9M54.60 489.15h1.9M54.60 482.34h1.9M54.60 475.53h2.3M54.60 468.73h1.9M54.60 461.92h1.9M54.60 455.11h1.9" stroke="#000" stroke-width="0.9" fill="none"/><path d="M229.50 461.92V457.50M226.30 457.50H232.70" stroke="#000" stroke-width="1.2" fill="none"/><path d="M243.50 463.28V456.50M240.30 456.50H246.70" stroke="#000" stroke-width="1.2" fill="none"/><path d="M251.20 530.00V467.08H264.25V530.00" fill="none" stroke="#000" stroke-width="0.8"/><path d="M257.50 466.68V459.50M254.30 459.50H260.70" stroke="#000" stroke-width="1.2" fill="none"/><path d="M257.50 466.68V473.50M254.30 473.50H260.70" stroke="#000" stroke-width="1.2" fill="none"/><path d="M264.65 470.59H278.00V530.00" fill="none" stroke="#000" stroke-width="1"/><path d="M271.50 470.09V467.50M268.30 467.50H274.70" stroke="#000" stroke-width="1.2" fill="none"/><path d="M271.50 470.09V473.50M268.30 473.50H274.70" stroke="#000" stroke-width="1.2" fill="none"/><path d="M303.50 470.09V467.50M300.30 467.50H306.70" stroke="#000" stroke-width="1.2" fill="none"/><path d="M317.50 469.41V467.50M314.30 467.50H320.70" stroke="#000" stroke-width="1.2" fill="none"/><path d="M325.30 530.00V469.33H338.35V530.00" fill="none" stroke="#000" stroke-width="0.8"/><path d="M331.50 468.93V464.50M328.30 464.50H334.70" stroke="#000" stroke-width="1.2" fill="none"/><path d="M331.50 468.93V473.50M328.30 473.50H334.70" stroke="#000" stroke-width="1.2" fill="none"/><path d="M338.75 468.68H352.10V530.00" fill="none" stroke="#000" stroke-width="1"/><path d="M345.50 468.18V464.50M342.30 464.50H348.70" stroke="#000" stroke-width="1.2" fill="none"/><path d="M345.50 468.18V472.50M342.30 472.50H348.70" stroke="#000" stroke-width="1.2" fill="none"/><path d="M215.50 448.50V530.00H358.80" stroke="#000" stroke-width="1.2" fill="none" stroke-linejoin="miter"/><path d="M215.50 530.00h2.3M215.50 523.19h1.9M215.50 516.38h1.9M215.50 509.57h1.9M215.50 502.77h2.3M215.50 495.96h1.9M215.50 489.15h1.9M215.50 482.34h1.9M215.50 475.53h2.3M215.50 468.73h1.9M215.50 461.92h1.9M215.50 455.11h1.9" stroke="#000" stroke-width="0.9" fill="none"/></g>
</svg></body></html>
